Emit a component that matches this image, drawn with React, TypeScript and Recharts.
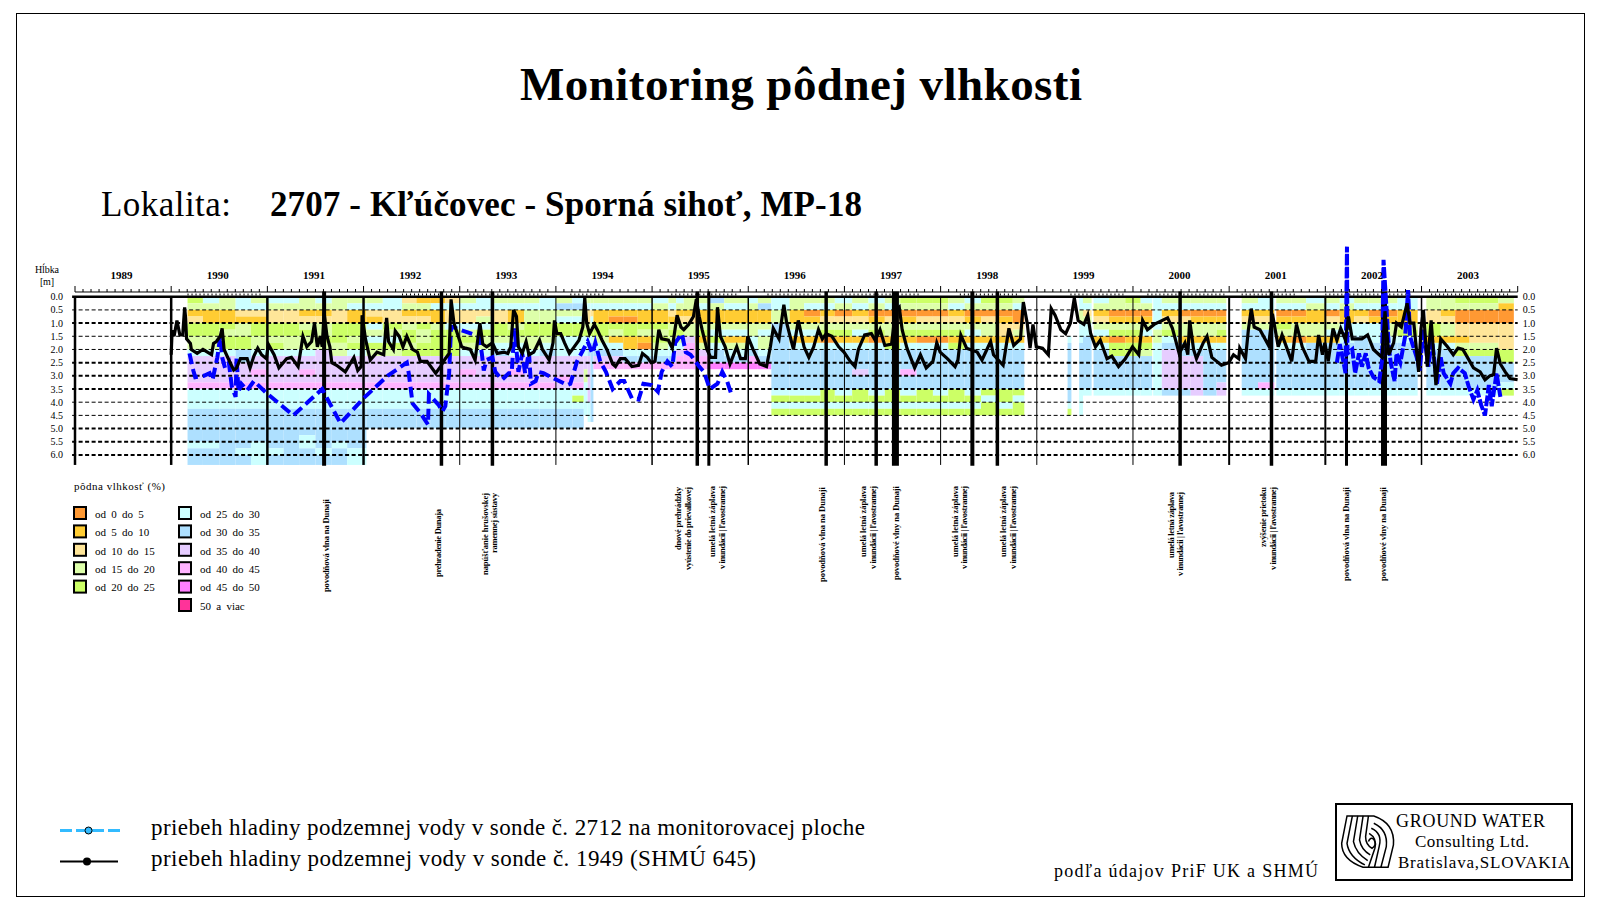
import React from 'react'
import {
  ComposedChart,
  Line,
  XAxis,
  YAxis,
  ReferenceArea,
  ReferenceLine,
} from 'recharts'

const SERIF = '"Liberation Serif", "Times New Roman", serif'

type Pair = [number, number]

const monthTicks: number[] = []
for (let y = 1989; y < 2004; y++) for (let m = 0; m < 12; m++) monthTicks.push(y + m / 12)
monthTicks.push(2004)

const depthTicks = [0, 0.5, 1, 1.5, 2, 2.5, 3, 3.5, 4, 4.5, 5, 5.5, 6]
const heavyDepths = [1, 2.5, 3, 3.5, 5, 5.5, 6]

const yearLines = [1989, 1990, 1991, 1992, 1993, 1994, 1995, 1996, 1997, 1998, 1999, 2000, 2001, 2002, 2003]
const yearLineWidths = [2.5, 2.5, 2.5, 2.5, 1, 1, 1.5, 1.5, 1, 1, 1, 1, 2, 2, 1.5]

// dates of the dated events under the chart
const eventDates = [1991.59, 1992.81, 1993.34, 1995.47, 1995.59, 1996.81, 1997.33, 1997.53, 1998.33, 1998.59, 2000.49, 2001.44, 2002.22, 2002.61]
const eventWidths = [4, 3.5, 3.5, 3.5, 3, 3.5, 3.5, 7, 4, 3.5, 3.5, 3.5, 3, 6]

const samplingRanges: Pair[] = [
  [1990.17, 1990.95], [1992.4, 1993.0], [1993.1, 1993.9], [1994.15, 1994.5], [1995.2, 1995.9], [1996.2, 1996.75],
  [1996.97, 1997.8], [1998.2, 1998.8], [1999.35, 1999.9], [2000.15, 2000.95], [2001.13, 2001.7], [2002.0, 2002.9], [2003.1, 2003.9],
]

const moistureLabels = ['od 0 do 5', 'od 5 do 10', 'od 10 do 15', 'od 15 do 20', 'od 20 do 25', 'od 25 do 30', 'od 30 do 35', 'od 35 do 40', 'od 40 do 45', 'od 45 do 50', '50 a viac']
const moistureColors = ['#FF9933', '#FFCC33', '#FFE699', '#DDFFAA', '#CCFF66', '#CCFFFF', '#AEE0FF', '#E6CCFF', '#FFB3FF', '#FF80FF', '#FF3399']

// one letter per 0.25 m layer, a = class 0-5 ... k = 50 a viac
const moistureStarts = [
  1990.17, 1990.33, 1990.5, 1990.67, 1990.83, 1991.0, 1991.17, 1991.33, 1991.5, 1991.67, 1991.83,
  1992.03, 1992.2, 1992.4, 1992.55, 1992.7, 1992.85, 1993.0, 1993.17, 1993.33, 1993.5, 1993.67, 1993.83, 1994.0, 1994.17,
  1994.29, 1994.33, 1994.36,
  1994.39, 1994.55, 1994.7, 1994.85, 1995.0, 1995.17, 1995.25, 1995.33, 1995.45, 1995.6, 1995.75, 1996.0, 1996.1,
  1996.24, 1996.43, 1996.58, 1996.75, 1996.9, 1997.08, 1997.25, 1997.42, 1997.58, 1997.75, 1997.92, 1998.08, 1998.25, 1998.42, 1998.58, 1998.75,
  1998.87, 1999.32, 1999.36, 1999.44, 1999.48, 1999.57, 1999.59, 1999.75, 1999.92, 2000.08, 2000.2, 2000.21, 2000.3, 2000.47, 2000.6, 2000.73, 2000.87,
  2000.97, 2001.13, 2001.3, 2001.47, 2001.49, 2001.65, 2001.8, 2002.0, 2002.15, 2002.3, 2002.45, 2002.6, 2002.75,
  2002.96, 2003.05, 2003.2, 2003.35, 2003.5, 2003.65, 2003.8, 2003.96,
]
const moistureColumns = [
  'edbceeddfhhhhifffgggggfgg', 'fdbbeeddfhhhhifffgggggfgg', 'ddbbedeefhhhhifffgggggggg', 'ffcbddeegghhhifffggggggfg',
  'dfcbeeddfhhihifffgggggfff', 'fdcceedefhhhhifffggggggfg', 'fdcceeddfhhhhifffgggggggg', 'ddbcdeddfhhihifffggggffgg',
  'fdbcddedhhhhhifffggggggfg', 'ddcceeeddhhhhifffgggggfgg', 'dfbbeedefhhhhifffggggggff',
  'dfcbfdfedhhhhifffggg', 'ffccedfedhhhhifffggg', 'cdbcdeedehhhhifffggg', 'bdbceddeehhhhifffggg', 'bfbbdeeeehhhhifffggg',
  'cfccfeeeehhhhifffggg', 'dfccfdedfhhihifffggg', 'ffcdfeddfhhhhifffggg', 'dfcceedfghhhhifffggg', 'dfbbdedffhhihifffggg',
  'dfddeeddfhhhhifffggg', 'ffddeedfghhhhifffggg', 'dgdfeefffhhhihfffggg', 'fgdfeefffhhhhifefggg',
  'dfcddefffhhddfffff', 'dfccdefgghhhhhhhfff', 'dfcfdefgggggggggggg',
  'dfbbeedfghi', 'dfbaedbfghi', 'dfbaeebbfgi', 'dfbbedbafgi', 'fdbbededfgi', 'dfcbdedffgi', 'fdbcdedfhii', 'ddbcddhiiii',
  'dfbbdebdhii', 'gdbbdfefggj', 'dfbbdfbdfgj', 'fdbbddffgij', 'dgbbdfddfgj',
  'ffddggggggggggfefe', 'ddbbdfbfggggggfefe', 'dfabdfbfggggggfefe', 'dfbcdeafggggggeefe', 'fdacdebfggggggfefe', 'dfbcdfbfggghggeefe',
  'fdabdeafggggggfefe', 'dfacddbeggggggeefe', 'edabdebfgggiggfefe', 'edacdeafggggggeefe', 'edacdeafggggggfefe', 'dfbcdebeggggggeefe',
  'fdabdfbfggggggfefe', 'edacddbfggggggefee', 'edabccbfggggggeefe', 'dfaacdbfggggggefee',
  '', '......fgggggggggfe', '', 'ffddfffgggggggffff', 'dfcdffggggggggf', '', 'fdbcdfbfggggggf', 'ddabdeaeegggggf', 'edabdebeegggggf', 'fdabdfbedgggggf',
  '', 'fffffddffffffff', 'dfbcdefghhhhhhg', 'dfacddbgghhhhhg', 'dfabddbfghhhhhh', 'dfabddbfggggggg', 'dfabdebfggggghh',
  '', 'dfbcdgggggggggf', 'ffbcdggggggggif', '', 'dfabedbfggggggf', 'dfabddafggggggf', 'fdbbddbgggggggf', 'dfacdfbgggggggf', 'fdbbfffgggggggf',
  'dfbcffggggggggf', 'dfabfffgggggggf', 'dfabddfgggggggf', 'ffbbdefgggggggf',
  '', 'ddcceebfggggggf', 'ddbcddbfggggggf', 'edaaccbdegggggf', 'edaacccdegggggf', 'edaacccdegggggf', 'dbaacccceegggfe',
]

// sonde 1949 (SHMU 645): year, [year fraction, depth in m]
const shmuByYear: [number, Pair[]][] = [
  [1990, [[0, 2.2], [0.01, 1.27], [0.03, 1.5], [0.06, 0.9], [0.09, 1.45], [0.12, 1.45], [0.14, 0.4], [0.15, 0.8], [0.16, 1.6], [0.2, 1.77], [0.21, 2.0], [0.27, 2.15], [0.33, 2.0], [0.42, 2.2], [0.44, 1.77], [0.47, 1.7], [0.51, 1.5], [0.53, 1.2], [0.55, 2.0], [0.6, 2.4], [0.65, 2.78], [0.68, 2.7], [0.72, 2.35], [0.79, 2.35], [0.82, 2.7], [0.86, 2.25], [0.9, 1.95], [0.94, 2.2], [0.99, 2.35]]],
  [1991, [[0.01, 1.8], [0.07, 2.2], [0.12, 2.7], [0.2, 2.35], [0.25, 2.3], [0.32, 2.65], [0.37, 1.5], [0.41, 1.9], [0.46, 1.7], [0.49, 1.0], [0.52, 1.9], [0.55, 1.5], [0.57, 1.9], [0.59, 0.6], [0.62, 1.5], [0.65, 1.9], [0.67, 2.5], [0.72, 2.6], [0.81, 2.85], [0.9, 2.3], [0.94, 2.8], [0.975, 2.65], [0.985, 0.7]]],
  [1992, [[0.02, 1.6], [0.07, 2.4], [0.14, 2.1], [0.21, 2.2], [0.24, 0.8], [0.26, 1.7], [0.31, 2.0], [0.33, 1.3], [0.37, 1.5], [0.41, 1.9], [0.45, 1.5], [0.51, 2.0], [0.56, 2.1], [0.59, 2.45], [0.66, 2.45], [0.75, 2.9], [0.8, 2.65], [0.85, 2.35], [0.89, 2.15], [0.91, 0.1], [0.94, 1.0]]],
  [1993, [[0.02, 1.9], [0.06, 1.95], [0.11, 2.0], [0.16, 2.4], [0.21, 1.0], [0.24, 1.8], [0.28, 1.9], [0.34, 1.75], [0.39, 2.15], [0.46, 2.1], [0.5, 2.15], [0.53, 1.9], [0.56, 0.5], [0.59, 0.75], [0.61, 1.9], [0.65, 2.15], [0.69, 1.7], [0.72, 2.2], [0.77, 2.1], [0.83, 1.65], [0.86, 2.0], [0.93, 2.4], [0.97, 1.75], [0.985, 0.9]]],
  [1994, [[0.01, 1.4], [0.05, 1.4], [0.09, 1.75], [0.14, 2.15], [0.19, 1.9], [0.24, 1.65], [0.28, 1.15], [0.3, 0.05], [0.32, 1.0], [0.35, 1.4], [0.4, 1.05], [0.43, 1.25], [0.48, 1.65], [0.53, 2.0], [0.59, 2.55], [0.62, 2.65], [0.67, 2.35], [0.72, 2.35], [0.79, 2.65], [0.86, 2.6], [0.9, 2.15], [0.95, 2.3], [0.99, 2.5]]],
  [1995, [[0.03, 2.45], [0.07, 1.25], [0.1, 1.6], [0.17, 1.65], [0.21, 1.95], [0.26, 0.7], [0.3, 1.15], [0.33, 1.25], [0.38, 1.05], [0.43, 0.75], [0.46, 0.1], [0.49, 0.75], [0.52, 1.25], [0.57, 2.0], [0.61, 2.3], [0.66, 2.3], [0.68, 0.4], [0.71, 1.5], [0.76, 1.9], [0.81, 2.55], [0.88, 1.9], [0.92, 2.35], [0.97, 2.35], [0.995, 1.5]]],
  [1996, [[0.05, 2.0], [0.12, 2.55], [0.19, 2.65], [0.23, 1.9], [0.26, 1.2], [0.32, 1.6], [0.37, 0.3], [0.4, 1.0], [0.47, 2.0], [0.52, 0.9], [0.58, 1.9], [0.63, 2.3], [0.68, 1.9], [0.73, 1.25], [0.77, 1.6], [0.81, 1.4], [0.87, 1.5], [0.94, 1.9], [0.995, 2.1]]],
  [1997, [[0.06, 2.45], [0.11, 2.65], [0.145, 2.0], [0.21, 1.45], [0.28, 1.4], [0.32, 1.65], [0.37, 1.25], [0.42, 1.85], [0.49, 1.8], [0.53, 0.55], [0.57, 0.4], [0.6, 1.25], [0.65, 1.95], [0.73, 2.7], [0.79, 2.2], [0.85, 2.7], [0.92, 2.45], [0.96, 1.75], [0.995, 2.1]]],
  [1998, [[0.07, 2.35], [0.15, 2.65], [0.18, 2.4], [0.21, 1.45], [0.27, 1.95], [0.38, 2.1], [0.43, 2.4], [0.52, 1.7], [0.55, 2.2], [0.65, 2.6], [0.71, 1.2], [0.76, 1.85], [0.83, 1.6], [0.86, 0.2], [0.9, 1.0], [0.93, 1.95], [0.96, 1.05], [0.995, 1.9]]],
  [1999, [[0.06, 1.95], [0.12, 2.2], [0.15, 0.45], [0.19, 0.7], [0.25, 1.25], [0.3, 1.4], [0.35, 1.0], [0.39, 0.05], [0.43, 0.9], [0.49, 1.05], [0.53, 0.7], [0.56, 1.4], [0.61, 1.9], [0.66, 1.65], [0.73, 2.35], [0.78, 2.25], [0.85, 2.65], [0.92, 2.35], [0.995, 1.9]]],
  [2000, [[0.06, 2.2], [0.1, 0.9], [0.15, 1.25], [0.22, 1.05], [0.36, 0.8], [0.41, 1.2], [0.48, 2.15], [0.54, 1.75], [0.57, 2.2], [0.59, 0.9], [0.63, 2.0], [0.66, 2.35], [0.73, 1.75], [0.77, 1.5], [0.82, 2.3], [0.92, 2.6], [0.995, 2.5]]],
  [2001, [[0.045, 2.2], [0.1, 2.35], [0.11, 1.95], [0.17, 2.35], [0.2, 1.25], [0.23, 0.45], [0.26, 1.15], [0.32, 1.25], [0.41, 1.85], [0.45, 0.65], [0.51, 1.9], [0.55, 1.45], [0.6, 1.95], [0.65, 2.45], [0.7, 1.05], [0.76, 1.9], [0.83, 2.45], [0.9, 2.45], [0.93, 1.45], [0.97, 2.2], [0.995, 1.75]]],
  [2002, [[0.03, 2.45], [0.08, 1.2], [0.12, 1.65], [0.16, 1.2], [0.21, 1.65], [0.24, 0.75], [0.28, 1.6], [0.38, 1.6], [0.44, 1.45], [0.5, 2.0], [0.56, 2.2], [0.59, 2.3], [0.62, 0.55], [0.66, 2.2], [0.71, 1.75], [0.74, 1.0], [0.79, 1.15], [0.85, 0.25], [0.88, 1.0], [0.92, 1.0], [0.97, 2.85], [0.995, 1.2]]],
  [2003, [[0.02, 0.5], [0.06, 2.65], [0.1, 0.9], [0.15, 3.35], [0.2, 1.6], [0.27, 1.9], [0.33, 2.2], [0.38, 1.95], [0.43, 2.0], [0.54, 2.7], [0.61, 2.85], [0.66, 3.15], [0.71, 3.0], [0.75, 2.95], [0.78, 1.95], [0.82, 2.55], [0.87, 2.85], [0.92, 3.1], [0.999, 3.15]]],
]

// sonde 2712, first period
const sondeEarlyByYear: [number, Pair[]][] = [
  [1990, [[0.19, 2.15], [0.23, 2.8], [0.25, 3.05], [0.34, 3.0], [0.4, 2.9], [0.43, 3.15], [0.48, 2.3], [0.51, 1.5], [0.53, 2.3], [0.56, 2.7], [0.6, 2.5], [0.63, 3.4], [0.67, 3.8], [0.68, 2.3], [0.7, 3.6], [0.73, 3.3], [0.79, 3.55], [0.86, 3.2], [0.99, 3.65]]],
  [1991, [[0.27, 4.5], [0.57, 3.5], [0.76, 4.8]]],
  [1992, [[0.0, 3.85], [0.25, 3.0], [0.45, 2.5], [0.47, 2.9], [0.51, 4.05], [0.59, 4.4], [0.67, 4.85], [0.68, 3.7], [0.78, 4.1], [0.82, 4.35], [0.85, 4.15], [0.89, 2.9], [0.91, 1.15], [0.93, 1.15]]],
  [1993, [[0.0, 1.25], [0.2, 1.5], [0.23, 2.15], [0.25, 2.8], [0.28, 2.4], [0.34, 2.3], [0.37, 2.85], [0.44, 3.15], [0.51, 2.9], [0.54, 2.9], [0.57, 1.2], [0.61, 2.85], [0.65, 2.15], [0.68, 2.9], [0.72, 2.1], [0.74, 3.3], [0.79, 3.2], [0.82, 2.85], [0.87, 2.9], [0.98, 3.1]]],
  [1994, [[0.12, 3.35], [0.15, 3.3], [0.22, 2.45], [0.33, 1.7], [0.38, 2.15], [0.41, 1.75], [0.46, 2.45], [0.52, 2.85], [0.59, 3.5], [0.67, 3.2], [0.71, 3.2], [0.79, 3.85], [0.86, 3.9], [0.91, 3.3], [0.995, 3.35]]],
  [1995, [[0.06, 3.6], [0.1, 2.85], [0.16, 2.45], [0.21, 2.65], [0.24, 1.75], [0.31, 1.4], [0.35, 2.1], [0.4, 2.2], [0.49, 2.65], [0.54, 2.85], [0.6, 3.5], [0.68, 3.3], [0.73, 2.85], [0.78, 3.2], [0.82, 3.65]]],
]

// sonde 2712, second period
const sondeLateByYear: [number, Pair[]][] = [
  [2002, [[0.12, 2.5], [0.15, 1.8], [0.19, 2.5], [0.21, 2.9], [0.225, -1.9], [0.23, 2.15], [0.28, 2.0], [0.31, 2.9], [0.35, 2.15], [0.38, 2.65], [0.42, 2.15], [0.45, 2.7], [0.5, 3.05], [0.56, 3.2], [0.59, 2.4], [0.605, -1.4], [0.66, 1.9], [0.68, 2.5], [0.72, 3.2], [0.74, 2.15], [0.78, 2.5], [0.83, 1.5], [0.86, -0.25], [0.88, 1.5], [0.95, 2.3], [0.98, 2.8]]],
  [2003, [[0.02, 1.25], [0.07, 2.65], [0.11, 1.65], [0.16, 3.3], [0.2, 2.3], [0.23, 2.9], [0.3, 3.3], [0.33, 2.9], [0.38, 2.7], [0.45, 2.9], [0.49, 3.4], [0.54, 3.9], [0.58, 3.55], [0.62, 4.1], [0.66, 4.5], [0.7, 3.35], [0.73, 4.15], [0.75, 3.65], [0.78, 2.9], [0.82, 3.8]]],
]

const flatten = (rows: [number, Pair[]][]) =>
  rows.flatMap(([year, pairs]) => pairs.map(([f, depth]) => ({ year: year + f, depth })))

const shmuPoints = flatten(shmuByYear)
const sondeEarly = flatten(sondeEarlyByYear)
const sondeLate = flatten(sondeLateByYear)

const floodWave = 'povodňová vlna na Dunaji'
const floodWaves = 'povodňové vlny na Dunaji'
const summerFlood = 'umelá letná záplava'
const inundation = 'v inundácii | ľavostrannej'

// x, top y, text, length
const annotations: [number, number, string, number][] = [
  [329, 499, floodWave, 93], [441, 509, 'prehradenie Dunaja', 68],
  [488, 493, 'napúšťanie hrušovskej', 82], [497, 493, 'ramennej sústavy', 60],
  [681, 487, 'dnové prehrádzky', 63], [691, 487, 'vyústenie do prievalkovej', 83],
  [715, 486, summerFlood, 71], [725, 486, inundation, 83],
  [825, 487, floodWave, 95],
  [866, 486, summerFlood, 71], [876, 486, inundation, 83],
  [899, 486, floodWaves, 94],
  [958, 486, summerFlood, 71], [967, 486, inundation, 83],
  [1006, 486, summerFlood, 71], [1016, 486, inundation, 83],
  [1174, 492, summerFlood, 66], [1183, 492, inundation, 84],
  [1266, 487, 'zvýšenie prietoku', 60], [1276, 487, inundation, 83],
  [1349, 487, floodWave, 94], [1386, 487, floodWaves, 94],
]

type Cell = { x1: number; x2: number; y1: number; y2: number; fill: string }

function buildCells(): Cell[] {
  const cells: Cell[] = []
  moistureColumns.forEach((col, i) => {
    const x1 = moistureStarts[i]
    const x2 = moistureStarts[i + 1]
    let k = 0
    while (k < col.length) {
      const ch = col[k]
      let e = k + 1
      while (e < col.length && col[e] === ch) e++
      if (ch !== '.') {
        cells.push({
          x1,
          x2,
          y1: k * 0.25,
          y2: e >= 25 ? 6.38 : e * 0.25,
          fill: moistureColors[ch.charCodeAt(0) - 97],
        })
      }
      k = e
    }
  })
  return cells
}

const heatCells = buildCells()

function MonthTick({ x, payload }: any) {
  const v: number = payload.value
  const isYear = Number.isInteger(v)
  const isMid = v % 1 === 0.5
  return (
    <g>
      <line x1={x} x2={x} y1={isYear ? 286 : 289} y2={292} stroke="#000" strokeWidth={1} />
      {isMid && (
        <text x={x - 1.5} y={279} textAnchor="middle" fontFamily={SERIF} fontSize={11} fontWeight="bold" fill="#000">
          {Math.floor(v)}
        </text>
      )}
    </g>
  )
}

function Page() {
  return (
    <svg width={1600} height={912} style={{ position: 'absolute', left: 0, top: 0 }}>
      <rect x={16.5} y={13.5} width={1568} height={883} fill="#fff" stroke="#000" strokeWidth={1} />
      <text x={520} y={100} fontFamily={SERIF} fontSize={47} fontWeight="bold" textLength={562} lengthAdjust="spacing">
        Monitoring pôdnej vlhkosti
      </text>
      <text x={101} y={216} fontFamily={SERIF} fontSize={35} textLength={130} lengthAdjust="spacing">
        Lokalita:
      </text>
      <text x={270} y={216} fontFamily={SERIF} fontSize={35} fontWeight="bold" textLength={592} lengthAdjust="spacing">
        2707 - Kľúčovec - Sporná sihoť, MP-18
      </text>
      <text x={35} y={273} fontFamily={SERIF} fontSize={10} textLength={24}>Hĺbka</text>
      <text x={40} y={285} fontFamily={SERIF} fontSize={10} textLength={14}>[m]</text>

      <text x={74} y={490} fontFamily={SERIF} fontSize={11} textLength={91}>pôdna vlhkosť (%)</text>
      {moistureLabels.map((label, i) => {
        const col = i < 5 ? 0 : 1
        const row = i < 5 ? i : i - 5
        return (
          <g key={label}>
            <rect x={col ? 179 : 74} y={507 + row * 18.4} width={12} height={12} fill={moistureColors[i]} stroke="#000" strokeWidth={2} />
            <text x={col ? 200 : 95} y={518 + row * 18.3} fontFamily={SERIF} fontSize={11} wordSpacing={2.5}>{label}</text>
          </g>
        )
      })}

      {annotations.map(([x, y, text, len]) => (
        <text
          key={`${x}-${text}`}
          transform={`translate(${x},${y}) rotate(-90)`}
          textAnchor="end"
          fontFamily={SERIF}
          fontSize={8.5}
          fontWeight="bold"
          textLength={len}
          lengthAdjust="spacing"
        >
          {text}
        </text>
      ))}

      <line x1={60} x2={120} y1={830.5} y2={830.5} stroke="#33BBFF" strokeWidth={3} strokeDasharray="12 4" />
      <circle cx={88.5} cy={830.5} r={3.5} fill="#33BBFF" stroke="#000" strokeWidth={1} />
      <text x={151} y={835} fontFamily={SERIF} fontSize={23} textLength={714} lengthAdjust="spacing">
        priebeh hladiny podzemnej vody v sonde č. 2712 na monitorovacej ploche
      </text>
      <line x1={60} x2={118} y1={861.5} y2={861.5} stroke="#000" strokeWidth={2} />
      <circle cx={87} cy={861.5} r={4} fill="#000" />
      <text x={151} y={866} fontFamily={SERIF} fontSize={23} textLength={605} lengthAdjust="spacing">
        priebeh hladiny podzemnej vody v sonde č. 1949 (SHMÚ 645)
      </text>

      <text x={1054} y={877} fontFamily={SERIF} fontSize={18} textLength={264} lengthAdjust="spacing">
        podľa údajov PriF UK a SHMÚ
      </text>
      <rect x={1336} y={804} width={236} height={76} fill="none" stroke="#000" strokeWidth={2} />
      <text x={1396} y={827} fontFamily={SERIF} fontSize={18} textLength={149} lengthAdjust="spacing">GROUND WATER</text>
      <text x={1415} y={847} fontFamily={SERIF} fontSize={17} textLength={114} lengthAdjust="spacing">Consulting Ltd.</text>
      <text x={1398} y={868} fontFamily={SERIF} fontSize={17} textLength={172} lengthAdjust="spacing">Bratislava,SLOVAKIA</text>
      <g transform="translate(1040,790) scale(0.357,0.333)" fill="none" stroke="#000" strokeWidth={1.5}>
        {[
          'M860 78 L935 78 Q995 100 990 165 L975 232 L905 232 Q845 210 845 160 Z',
          'M875 78 L860 160 Q865 200 910 225',
          'M890 78 L878 155 Q885 190 918 212',
          'M905 78 L895 150 Q900 180 925 195',
          'M920 78 L912 140 Q912 165 930 175 Q945 165 935 148 Q925 140 920 155',
          'M935 100 Q975 120 970 170 L955 232',
          'M928 115 Q960 130 950 170 L937 232',
          'M922 130 Q945 145 938 175 L920 232',
        ].map((d) => (
          <path key={d} d={d} style={{ vectorEffect: 'non-scaling-stroke' }} />
        ))}
      </g>
    </svg>
  )
}

export default function App() {
  return (
    <div style={{ position: 'absolute', left: 0, top: 0, width: 1600, height: 912, background: '#fff' }}>
      <Page />
      <div style={{ position: 'absolute', left: 0, top: 0 }}>
        <ComposedChart width={1600} height={912} margin={{ top: 204, right: 0, bottom: 446, left: 0 }}>
          <XAxis
            xAxisId="time"
            type="number"
            dataKey="year"
            orientation="top"
            height={40}
            domain={[1989, 2004]}
            ticks={monthTicks}
            interval={0}
            axisLine={false}
            tickLine={false}
            tick={MonthTick}
          />
          <YAxis
            yAxisId="depth"
            type="number"
            reversed
            width={75}
            domain={[-2, 6.42]}
            ticks={depthTicks}
            interval={0}
            axisLine={false}
            tickLine={false}
            tickSize={0}
            tickMargin={12}
            tickFormatter={(v: number) => v.toFixed(1)}
            tick={{ fill: '#000', fontSize: 10, fontFamily: SERIF }}
          />
          <YAxis
            yAxisId="depthRight"
            orientation="right"
            type="number"
            reversed
            width={82.3}
            domain={[-2, 6.42]}
            ticks={depthTicks}
            interval={0}
            axisLine={false}
            tickLine={false}
            tickSize={0}
            tickMargin={5}
            tickFormatter={(v: number) => v.toFixed(1)}
            tick={{ fill: '#000', fontSize: 10, fontFamily: SERIF }}
          />
          {heatCells.map((c, i) => (
            <ReferenceArea
              key={i}
              xAxisId="time"
              yAxisId="depth"
              x1={c.x1}
              x2={c.x2}
              y1={c.y1}
              y2={c.y2}
              fill={c.fill}
              fillOpacity={1}
              stroke="none"
            />
          ))}
          {depthTicks.slice(1).map((d) => (
            <ReferenceLine
              key={d}
              xAxisId="time"
              yAxisId="depth"
              segment={[{ x: 1988.97, y: d }, { x: 2004, y: d }]}
              stroke="#000"
              strokeWidth={heavyDepths.includes(d) ? 2 : 1}
              strokeDasharray="4 2.5"
              ifOverflow="visible"
            />
          ))}
          <ReferenceLine xAxisId="time" yAxisId="depth" segment={[{ x: 1989, y: -0.18 }, { x: 2004, y: -0.18 }]} stroke="#000" strokeWidth={1} />
          <ReferenceLine xAxisId="time" yAxisId="depth" segment={[{ x: 1988.97, y: 0 }, { x: 2004, y: 0 }]} stroke="#000" strokeWidth={2.5} ifOverflow="visible" />
          {samplingRanges.map(([a, b]) => (
            <ReferenceLine
              key={a}
              xAxisId="time"
              yAxisId="depth"
              segment={[{ x: a, y: -0.08 }, { x: b, y: -0.08 }]}
              stroke="#000"
              strokeWidth={2}
              strokeDasharray="1 3"
            />
          ))}
          {yearLines.map((y, i) => (
            <ReferenceLine
              key={y}
              xAxisId="time"
              yAxisId="depth"
              segment={[{ x: y, y: 0 }, { x: y, y: 6.38 }]}
              stroke="#000"
              strokeWidth={yearLineWidths[i]}
            />
          ))}
          {eventDates.map((d, i) => (
            <ReferenceLine
              key={d}
              xAxisId="time"
              yAxisId="depth"
              segment={[{ x: d, y: -0.2 }, { x: d, y: 6.41 }]}
              stroke="#000"
              strokeWidth={eventWidths[i]}
            />
          ))}
          {/* keeps the right depth axis alive, draws nothing */}
          <Line
            xAxisId="time"
            yAxisId="depthRight"
            data={shmuPoints}
            dataKey="depth"
            stroke="none"
            dot={false}
            legendType="none"
            isAnimationActive={false}
          />
          <Line
            xAxisId="time"
            yAxisId="depth"
            data={sondeEarly}
            dataKey="depth"
            type="linear"
            stroke="#0000FF"
            strokeWidth={4}
            strokeDasharray="11 5"
            dot={false}
            isAnimationActive={false}
          />
          <Line
            xAxisId="time"
            yAxisId="depth"
            data={sondeLate}
            dataKey="depth"
            type="linear"
            stroke="#0000FF"
            strokeWidth={4}
            strokeDasharray="11 2"
            dot={false}
            isAnimationActive={false}
          />
          <Line
            xAxisId="time"
            yAxisId="depth"
            data={shmuPoints}
            dataKey="depth"
            type="linear"
            stroke="#000"
            strokeWidth={3.2}
            dot={false}
            isAnimationActive={false}
          />
        </ComposedChart>
      </div>
    </div>
  )
}
